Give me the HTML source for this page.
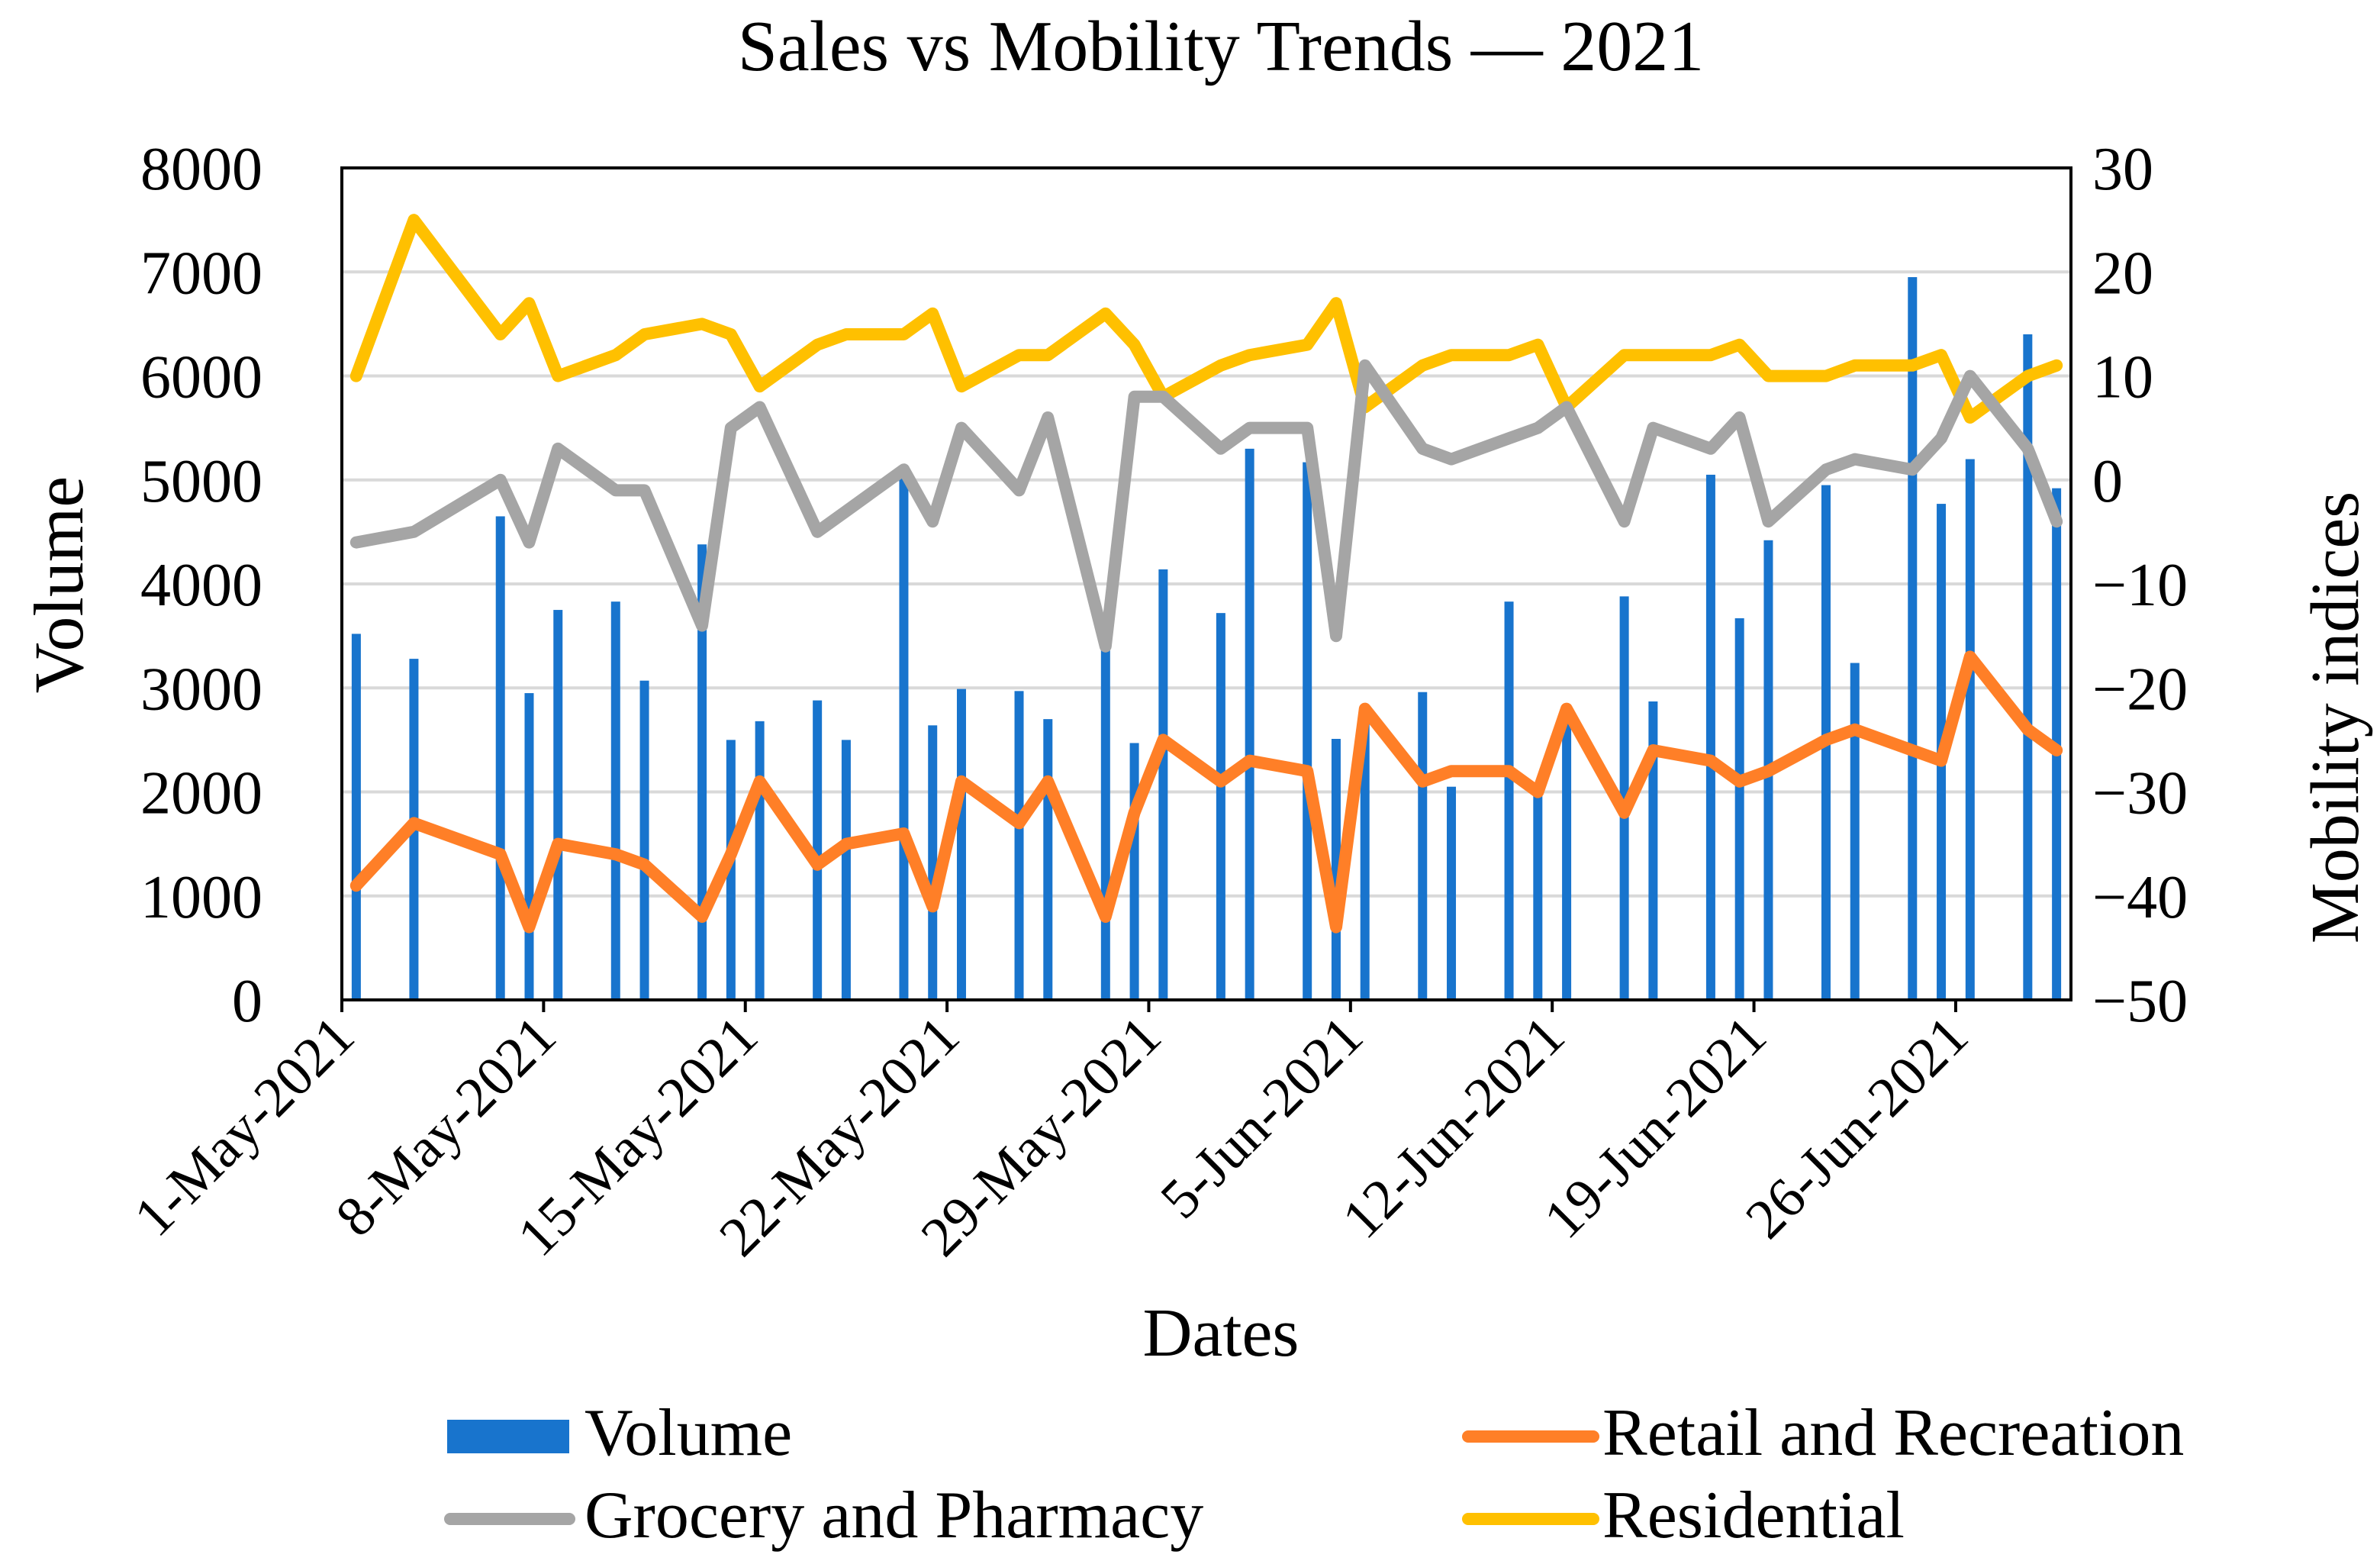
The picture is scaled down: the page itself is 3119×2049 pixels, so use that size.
<!DOCTYPE html>
<html><head><meta charset="utf-8"><style>
html,body{margin:0;padding:0;background:#fff}
svg{display:block}
text{font-family:"Liberation Serif",serif;fill:#000}
</style></head><body>
<svg id="chart" width="3119" height="2049" viewBox="0 0 1559.5 1024.5" xmlns="http://www.w3.org/2000/svg">
<rect width="1559.5" height="1024.5" fill="#fff"/>
<text x="800" y="46" font-size="47" text-anchor="middle">Sales vs Mobility Trends — 2021</text>
<g id="grid"></g><g id="bars"></g><g id="lines"></g>
<rect x="224" y="110" width="1133" height="545" fill="none" stroke="#000" stroke-width="2"/>
<g id="axes"></g>
<text transform="translate(54,383) rotate(-90)" font-size="46" text-anchor="middle">Volume</text>
<text transform="translate(1545,470) rotate(-90)" font-size="45" text-anchor="middle">Mobility indices</text>
<text x="800" y="888" font-size="45" text-anchor="middle">Dates</text>
<g>
<rect x="293" y="930" width="80" height="22" fill="#1874CD"/>
<text x="383" y="953" font-size="44">Volume</text>
<line x1="962" y1="941" x2="1044" y2="941" stroke="#FF7F27" stroke-width="8" stroke-linecap="round"/>
<text x="1050" y="953" font-size="44">Retail and Recreation</text>
<line x1="295" y1="995" x2="373" y2="995" stroke="#A5A5A5" stroke-width="8" stroke-linecap="round"/>
<text x="383" y="1007" font-size="44">Grocery and Pharmacy</text>
<line x1="962" y1="995" x2="1044" y2="995" stroke="#FFC000" stroke-width="8" stroke-linecap="round"/>
<text x="1050" y="1007" font-size="44">Residential</text>
</g>
</svg>
<script>
const days = [0,2,5,6,7,9,10,12,13,14,16,17,19,20,21,23,24,26,27,28,30,31,33,34,35,37,38,40,41,42,44,45,47,48,49,51,52,54,55,56,58,59];
const volume = [3520,3280,4650,2950,3750,3830,3070,4380,2500,2680,2880,2500,5020,2640,2990,2970,2700,3400,2470,4140,3720,5300,5170,2510,2700,2960,2050,3830,2000,2700,3880,2870,5050,3670,4420,4950,3240,6950,4770,5200,6400,4920];
const residential = [10,25,14,17,10,12,14,15,14,9,13,14,14,16,9,12,12,16,13,8,11,12,13,17,7,11,12,12,13,7,12,12,12,13,10,10,11,11,12,6,10,11];
const grocery = [-6,-5,0,-6,3,-1,-1,-14,5,7,-5,-3,1,-4,5,-1,6,-16,8,8,3,5,5,-15,11,3,2,4,5,7,-4,5,3,6,-4,1,2,1,4,10,3,-4];
const retail = [-39,-33,-36,-43,-35,-36,-37,-42,-36,-29,-37,-35,-34,-41,-29,-33,-29,-42,-32,-25,-29,-27,-28,-43,-22,-29,-28,-28,-30,-22,-32,-26,-27,-29,-28,-25,-24,-26,-27,-17,-24,-26];
const leftTicks = [0,1000,2000,3000,4000,5000,6000,7000,8000];
const rightTicks = [-50,-40,-30,-20,-10,0,10,20,30];
const xTickLabels = ["1-May-2021","8-May-2021","15-May-2021","22-May-2021","29-May-2021","5-Jun-2021","12-Jun-2021","19-Jun-2021","26-Jun-2021"];
const xTickDays = [0,7,14,21,28,35,42,49,56];

const X0=224,X1=1357,Y0=655,Y1=110,NDAYS=60;
const dayW=(X1-X0)/NDAYS;
const xc=d=>X0+(d+0.5)*dayW;
const xb=d=>X0+d*dayW;
const yL=v=>Y0-(v/8000)*(Y0-Y1);
const yR=v=>Y0-((v+50)/80)*(Y0-Y1);
const NS="http://www.w3.org/2000/svg";
function mk(tag,attrs,parent){const e=document.createElementNS(NS,tag);for(const k in attrs)e.setAttribute(k,attrs[k]);parent.appendChild(e);return e;}
const grid=document.getElementById('grid'),bars=document.getElementById('bars'),lines=document.getElementById('lines'),axes=document.getElementById('axes');
leftTicks.forEach((t,i)=>{
  if(t>0&&t<8000){const g=mk('line',{x1:X0,x2:X1,y1:yL(t),y2:yL(t),stroke:'#D9D9D9','stroke-width':2},grid);
  
  }
  const tx=mk('text',{x:X0-52,y:yL(t)+14,'font-size':40,'text-anchor':'end'},axes);tx.textContent=t;
  
  
});
rightTicks.forEach(t=>{
  const tx=mk('text',{x:X1+14,y:yR(t)+14,'font-size':40,'text-anchor':'start'},axes);tx.textContent=(t<0?'\u2212'+(-t):t);
  
  
});
xTickDays.forEach((d,i)=>{
  const x=xb(d);
  const tk=mk('line',{x1:x,x2:x,y1:Y0,y2:Y0+8,stroke:'#000','stroke-width':2},axes);
  
  
  const tx=mk('text',{transform:`translate(${x+10},${Y0+26}) rotate(-45)`,'font-size':37,'text-anchor':'end'},axes);tx.textContent=xTickLabels[i];
  
  
});
days.forEach((d,i)=>{
  const b=mk('rect',{x:xc(d)-3,y:yL(volume[i]),width:6,height:Y0-yL(volume[i]),fill:'#1874CD'},bars);
  
  
});
function series(vals,color,name){
  const pts=days.map((d,i)=>xc(d).toFixed(1)+','+yR(vals[i]).toFixed(1)).join(' ');
  const p=mk('polyline',{points:pts,fill:'none',stroke:color,'stroke-width':8,'stroke-linejoin':'round','stroke-linecap':'round'},lines);
  
  
}
series(residential,'#FFC000','residential-line');
series(grocery,'#A5A5A5','grocery-line');
series(retail,'#FF7F27','retail-line');
</script>
</body></html>
